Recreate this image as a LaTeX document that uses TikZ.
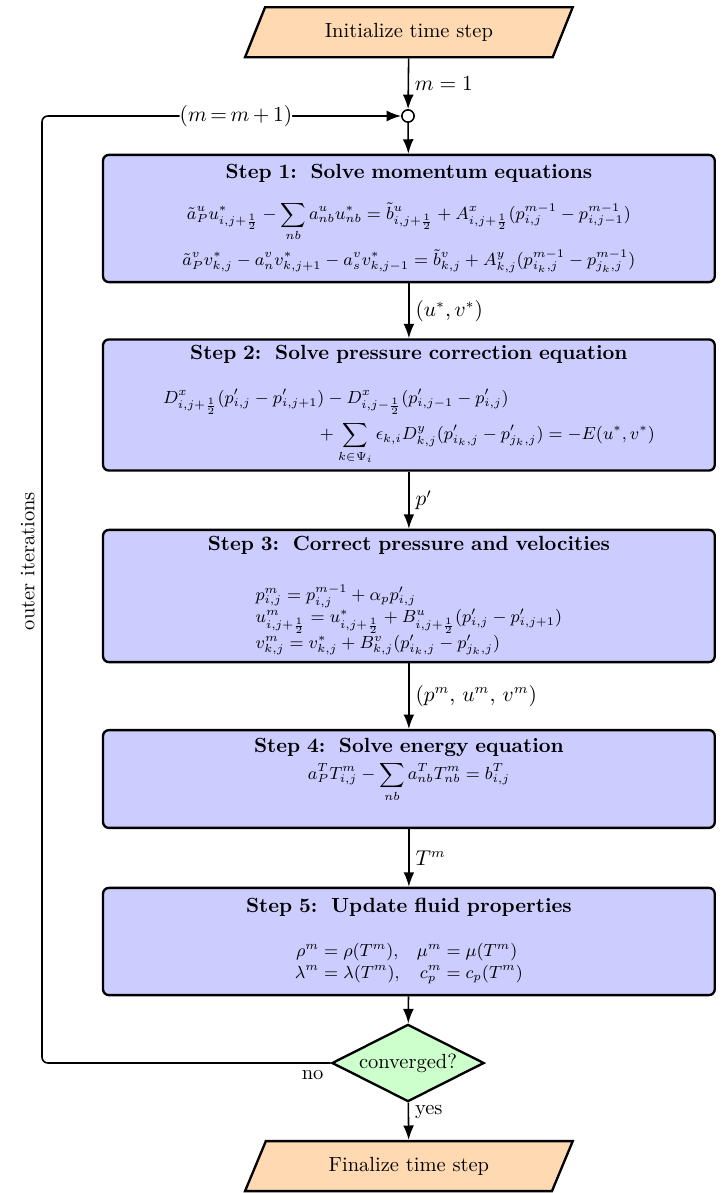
\documentclass[tikz,border=0pt]{standalone}
\usepackage{amsmath, amssymb}
\usepackage{tikz}
\usetikzlibrary{positioning,arrows.meta,shapes.geometric}
\DeclareMathSizes{8.8}{8.8}{6.2}{4.6}
\newcommand{\eqsize}{\fontsize{8.8pt}{11pt}\selectfont}
\tikzset{
  flowarrow/.style={-{Latex[length=2.6mm]}, thick},
  stepbox/.style={draw, rounded corners=3pt, very thick, fill=blue!20, text width=10.8cm, align=center, inner sep=3pt},
  timebox/.style={trapezium, trapezium left angle=68, trapezium right angle=112, trapezium stretches=true, draw, very thick, fill=orange!30, minimum width=5.9cm, minimum height=0.9cm},
  decision/.style={diamond, aspect=2, draw, very thick, fill=green!20, minimum width=2.74cm, minimum height=1.39cm, inner sep=0pt},
  joinpt/.style={circle, draw, thick, fill=white, minimum size=0.22cm, inner sep=0pt},
  edgelabel/.style={right, inner sep=3pt}
}

\begin{document}
\begin{tikzpicture}[>=Latex, every node/.style={font=\fontsize{10.5pt}{12.6pt}\selectfont}]
  \useasboundingbox (0,0) rectangle (13.014,-21.474);

  % start and end of the time step
  \node[timebox] (init) at (7.36,-0.58) {Initialize time step};
  \node[joinpt] (join) at (7.344,-2.088) {};

  % the five steps
  \node[stepbox, minimum height=2.29cm] (s1) at (7.36,-3.933) {%
    \textbf{Step 1:\ \ Solve momentum equations}\\[3mm]
    {\eqsize$\begin{gathered}[t]
      \tilde a^u_P u^*_{i,j+\frac12} - \sum_{nb} a^u_{nb} u^*_{nb} = \tilde b^u_{i,j+\frac12} + A^x_{i,j+\frac12}(p^{m-1}_{i,j} - p^{m-1}_{i,j-1})\\
      \tilde a^v_P v^*_{k,j} - a^v_n v^*_{k,j+1} - a^v_s v^*_{k,j-1} = \tilde b^v_{k,j} + A^y_{k,j}(p^{m-1}_{i_k,j} - p^{m-1}_{j_k,j})
    \end{gathered}$}};
  \node[stepbox, minimum height=2.23cm] (s2) at (7.36,-7.29) {%
    \textbf{Step 2:\ \ Solve pressure correction equation}\\[3.5mm]
    {\eqsize$\begin{aligned}[t]
      &D^x_{i,j+\frac12}(p'_{i,j} - p'_{i,j+1}) - D^x_{i,j-\frac12}(p'_{i,j-1} - p'_{i,j})\\[0pt]
      &\hspace{8.9em} + \sum_{k\in\Psi_i} \epsilon_{k,i} D^y_{k,j}(p'_{i_k,j} - p'_{j_k,j}) = -E(u^*,v^*)
    \end{aligned}$}};
  \node[stepbox, minimum height=2.38cm] (s3) at (7.36,-10.728) {%
    \textbf{Step 3:\ \ Correct pressure and velocities}\\[4.5mm]
    {\eqsize$\begin{array}[t]{@{}l@{}}
      p^m_{i,j} = p^{m-1}_{i,j} + \alpha_p p'_{i,j}\\
      u^m_{i,j+\frac12} = u^*_{i,j+\frac12} + B^u_{i,j+\frac12}(p'_{i,j} - p'_{i,j+1})\\
      v^m_{k,j} = v^*_{k,j} + B^v_{k,j}(p'_{i_k,j} - p'_{j_k,j})
    \end{array}$}};
  \node[stepbox, minimum height=1.76cm] (s4) at (7.36,-14.022) {%
    \textbf{Step 4:\ \ Solve energy equation}\\[0.5mm]
    {\eqsize$\begin{gathered}[t]
      a^T_P T^m_{i,j} - \sum_{nb} a^T_{nb} T^m_{nb} = b^T_{i,j}
    \end{gathered}$}\\[8pt]\mbox{}};
  \node[stepbox, minimum height=1.93cm] (s5) at (7.36,-16.947) {%
    \textbf{Step 5:\ \ Update fluid properties}\\[3.5mm]
    {\eqsize$\begin{array}[t]{@{}r@{}l@{\quad}r@{}l@{}}
      \rho^m &{}= \rho(T^m), & \mu^m &{}= \mu(T^m)\\
      \lambda^m &{}= \lambda(T^m), & c^m_p &{}= c_p(T^m)
    \end{array}$}};

  \node[decision] (conv) at (7.344,-19.134) {converged?};
  \node[timebox] (final) at (7.36,-20.99) {Finalize time step};

  % corners of the outer loop
  \coordinate (lbot) at (0.756,-19.134);
  \coordinate (ltop) at (0.756,-2.088);

  \draw[flowarrow] (init) -- node[edgelabel]{$m=1$} (join);
  \draw[flowarrow] (join) -- (s1);
  \draw[flowarrow] (s1) -- node[edgelabel]{$(u^*,v^*)$} (s2);
  \draw[flowarrow] (s2) -- node[edgelabel]{$p'$} (s3);
  \draw[flowarrow] (s3) -- node[edgelabel]{$(p^m,\,u^m,\,v^m)$} (s4);
  \draw[flowarrow] (s4) -- node[edgelabel]{$T^m$} (s5);
  \draw[flowarrow] (s5) -- (conv);
  \draw[flowarrow] (conv) -- node[edgelabel, pos=0.25]{yes} (final);
  \draw[flowarrow, rounded corners=3pt] (conv.west) -- node[pos=0, below left]{no} (lbot)
    -- node[pos=0.53, above, sloped]{outer iterations} (ltop)
    -- node[pos=0.54, fill=white, inner sep=0pt]{$(m\,{=}\,m\,{+}\,1)$} (join);
\end{tikzpicture}
\end{document}
